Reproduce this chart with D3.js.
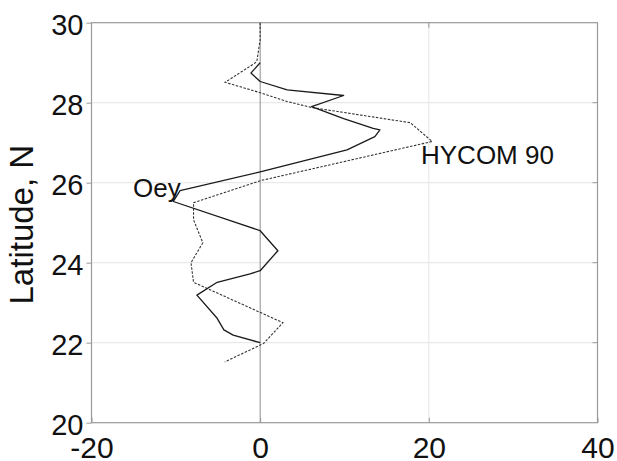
<!DOCTYPE html>
<html><head><meta charset="utf-8">
<script src="https://cdn.jsdelivr.net/npm/d3@7"></script>
<style>body{margin:0;background:#fff}svg{display:block}text{font-family:"Liberation Sans",Arial,sans-serif;fill:#111}</style>
</head><body>
<script>
// Data (x = value, y = latitude N)
const oeyX   = [0, -1.1, 0, 3.2, 9.9, 6.1, 9.9, 13.4, 14.2, 13.6, 10.3, 0, -9.5, -10.3, 0, 2.1, 0, -1.2, -5.1, -7.5, -5.1, -4.3, -3.2, 0];
const oeyLat = [29.0, 28.74, 28.53, 28.32, 28.18, 27.9, 27.6, 27.36, 27.32, 27.15, 26.82, 26.27, 25.8, 25.53, 24.8, 24.3, 23.8, 23.72, 23.51, 23.19, 22.61, 22.32, 22.19, 22.0];
const hycomX   = [0, 0, -0.4, -0.7, -4.15, 0, 3.2, 6.1, 17.8, 20.4, 0, -7.9, -7.9, -6.8, -8.2, -7.9, 2.7, 0.4, -4.2];
const hycomLat = [30.0, 29.57, 29.03, 28.98, 28.51, 28.25, 28.03, 27.88, 27.5, 27.03, 26.05, 25.5, 25.07, 24.5, 24.0, 23.51, 22.5, 21.98, 21.52];
const xTicks = [-20, 0, 20, 40];
const yTicks = [20, 22, 24, 26, 28, 30];
const yLabel = "Latitude, N";
const seriesLabels = ["Oey", "HYCOM 90"];

const W = 617, H = 461;
const L = 91.5, R = 597.5, T = 22.7, B = 422.7;
const svg = d3.select("body").append("svg").attr("width", W).attr("height", H);
const x = d3.scaleLinear().domain([-20, 40]).range([L, R]);
const y = d3.scaleLinear().domain([20, 30]).range([B, T]);

// grid
svg.append("g").selectAll("line").data(xTicks.filter(v => v > -20 && v < 40 && v !== 0)).join("line")
  .attr("x1", d => x(d)).attr("x2", d => x(d)).attr("y1", T).attr("y2", B)
  .attr("stroke", "#e4e4e4").attr("stroke-width", 1);
svg.append("g").selectAll("line").data(yTicks.filter(v => v > 20 && v < 30)).join("line")
  .attr("x1", L).attr("x2", R).attr("y1", d => y(d)).attr("y2", d => y(d))
  .attr("stroke", "#e4e4e4").attr("stroke-width", 1);
// zero line
svg.append("line").attr("x1", x(0)).attr("x2", x(0)).attr("y1", T).attr("y2", B)
  .attr("stroke", "#8c8c8c").attr("stroke-width", 1);

// right inward ticks and top ticks
svg.append("g").selectAll("line").data(yTicks.filter(v => v > 20 && v < 30)).join("line")
  .attr("x1", R - 5).attr("x2", R).attr("y1", d => y(d)).attr("y2", d => y(d))
  .attr("stroke", "#999");
svg.append("g").selectAll("line").data(xTicks.filter(v => v > -20 && v < 40)).join("line")
  .attr("x1", d => x(d)).attr("x2", d => x(d)).attr("y1", T).attr("y2", T + 5)
  .attr("stroke", "#999");

// axes
const xAxis = d3.axisBottom(x).tickValues(xTicks).tickSize(-5).tickPadding(14).tickFormat(d3.format("d"));
const gx = svg.append("g").attr("transform", `translate(0,${B})`).call(xAxis);
gx.select(".domain").remove();
gx.selectAll(".tick line").attr("stroke", "#999");
gx.selectAll("text").attr("font-size", 30).attr("fill", "#111").attr("dy", "0.71em")
  .style("font-family", '"Liberation Sans",Arial,sans-serif').text(d => d < 0 ? "-" + Math.abs(d) : d);

const yAxis = d3.axisLeft(y).tickValues(yTicks).tickSize(5).tickPadding(3).tickFormat(d3.format("d"));
const gy = svg.append("g").attr("transform", `translate(${L},0)`).call(yAxis);
gy.select(".domain").remove();
gy.selectAll(".tick line").attr("stroke", "#999");
gy.selectAll("text").attr("font-size", 29).attr("fill", "#111").attr("dy", "0.42em")
  .style("font-family", '"Liberation Sans",Arial,sans-serif');

// frame
svg.append("rect").attr("x", L).attr("y", T).attr("width", R - L).attr("height", B - T)
  .attr("fill", "none").attr("stroke", "#9a9a9a").attr("stroke-width", 1.2);

// lines
const line = d3.line().x(d => x(d[0])).y(d => y(d[1]));
svg.append("path").datum(hycomX.map((v, i) => [v, hycomLat[i]])).attr("d", line)
  .attr("fill", "none").attr("stroke", "#333").attr("stroke-width", 1.1).attr("stroke-dasharray", "2.5,1.5");
svg.append("path").datum(oeyX.map((v, i) => [v, oeyLat[i]])).attr("d", line)
  .attr("fill", "none").attr("stroke", "#1a1a1a").attr("stroke-width", 1.3).attr("stroke-linejoin", "round");

// labels
svg.append("text").attr("x", 133).attr("y", 197).attr("font-size", 26).text(seriesLabels[0]);
svg.append("text").attr("x", 421).attr("y", 163.5).attr("font-size", 26).text(seriesLabels[1]);

svg.append("text").attr("transform", `translate(33,${(B + T) / 2 + 2}) rotate(-90)`)
  .attr("text-anchor", "middle").attr("font-size", 33).text(yLabel);
</script>
</body></html>
